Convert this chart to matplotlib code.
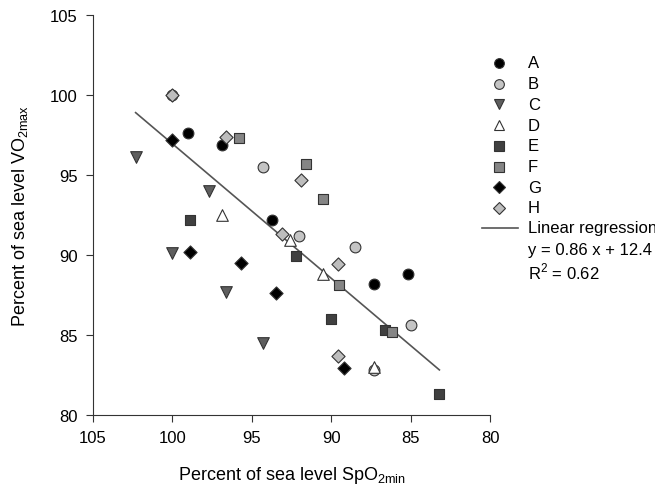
import numpy as np
import matplotlib
matplotlib.use("Agg")
import matplotlib.pyplot as plt
from matplotlib.lines import Line2D

plt.rcParams["font.family"] = ["Liberation Sans", "DejaVu Sans"]

# Subject data: (SpO2min %, VO2max %)
a_x = [99.0, 96.9, 93.7, 87.3, 85.2]
a_y = [97.6, 96.9, 92.2, 88.2, 88.8]
b_x = [100.0, 94.3, 92.0, 88.5, 85.0, 87.3]
b_y = [100.0, 95.5, 91.2, 90.5, 85.6, 82.8]
c_x = [102.3, 97.7, 100.0, 96.6, 94.3]
c_y = [96.1, 94.0, 90.1, 87.7, 84.5]
d_x = [96.9, 92.6, 90.5, 87.3]
d_y = [92.5, 90.9, 88.8, 83.0]
e_x = [98.9, 92.2, 90.0, 86.6, 83.2]
e_y = [92.2, 89.9, 86.0, 85.3, 81.3]
f_x = [95.8, 91.6, 90.5, 89.5, 86.2]
f_y = [97.3, 95.7, 93.5, 88.1, 85.2]
g_x = [100.0, 98.9, 95.7, 93.5, 89.2]
g_y = [97.2, 90.2, 89.5, 87.6, 82.9]
h_x = [100.0, 96.6, 93.1, 91.9, 89.6, 89.6]
h_y = [100.0, 97.4, 91.3, 94.7, 89.4, 83.7]

# regression line endpoints as drawn
reg_x = [102.3, 83.2]
reg_y = [98.9, 82.8]

labels = ["A", "B", "C", "D", "E", "F", "G", "H"]
xs = [a_x, b_x, c_x, d_x, e_x, f_x, g_x, h_x]
ys = [a_y, b_y, c_y, d_y, e_y, f_y, g_y, h_y]
markers = ["o", "o", "v", "^", "s", "s", "D", "D"]
faces = ["black", "#c4c4c4", "#5e5e5e", "white", "#404040", "#858585", "black", "#bdbdbd"]
sizes = [60, 60, 70, 70, 55, 55, 45, 45]

fig = plt.figure(figsize=(6.55, 4.89), dpi=100)
ax = fig.add_axes([0.1415, 0.15, 0.607, 0.817])

for lab, x, y, m, fc, s in zip(labels, xs, ys, markers, faces, sizes):
    ax.scatter(x, y, marker=m, s=s, facecolor=fc, edgecolor="#333333",
               linewidth=0.8, zorder=3, label=lab)

ax.plot(reg_x, reg_y, color="#555555", linewidth=1.2, zorder=2)

ax.set_xlim(105, 80)
ax.set_ylim(80, 105)
ax.set_xticks([105, 100, 95, 90, 85, 80])
ax.set_yticks([80, 85, 90, 95, 100, 105])
for side in ["top", "right"]:
    ax.spines[side].set_visible(False)
for side in ["left", "bottom"]:
    ax.spines[side].set_color("#333333")
ax.tick_params(direction="out", length=5, color="#333333", labelsize=12, pad=6)

ax.set_xlabel("Percent of sea level SpO$_\\mathregular{2min}$", fontsize=13, labelpad=14)
ax.set_ylabel("Percent of sea level VO$_\\mathregular{2max}$", fontsize=13, labelpad=14)

# legend drawn manually to the right of the axes
y0 = 64
step = 20.7
for i, (lab, m, fc) in enumerate(zip(labels, markers, faces)):
    py = 1 - (y0 + i * step) / 489
    fig.add_artist(Line2D([499 / 655], [py], marker=m, markersize=7 if m != "D" else 6.5,
                          markerfacecolor=fc, markeredgecolor="#333333",
                          markeredgewidth=0.8, linestyle="none"))
    fig.text(528 / 655, py, lab, fontsize=12, va="center", ha="left")

py = 1 - 229 / 489
fig.add_artist(Line2D([482 / 655, 518 / 655], [py, py], color="#555555", linewidth=1.2))
fig.text(528 / 655, py, "Linear regression", fontsize=12, va="center", ha="left")
fig.text(528 / 655, 1 - 250 / 489, "y = 0.86 x + 12.4", fontsize=12, va="center", ha="left")
fig.text(528 / 655, 1 - 272 / 489, "R$^\\mathregular{2}$ = 0.62", fontsize=12, va="center", ha="left")

fig.savefig("out.png", dpi=100)
